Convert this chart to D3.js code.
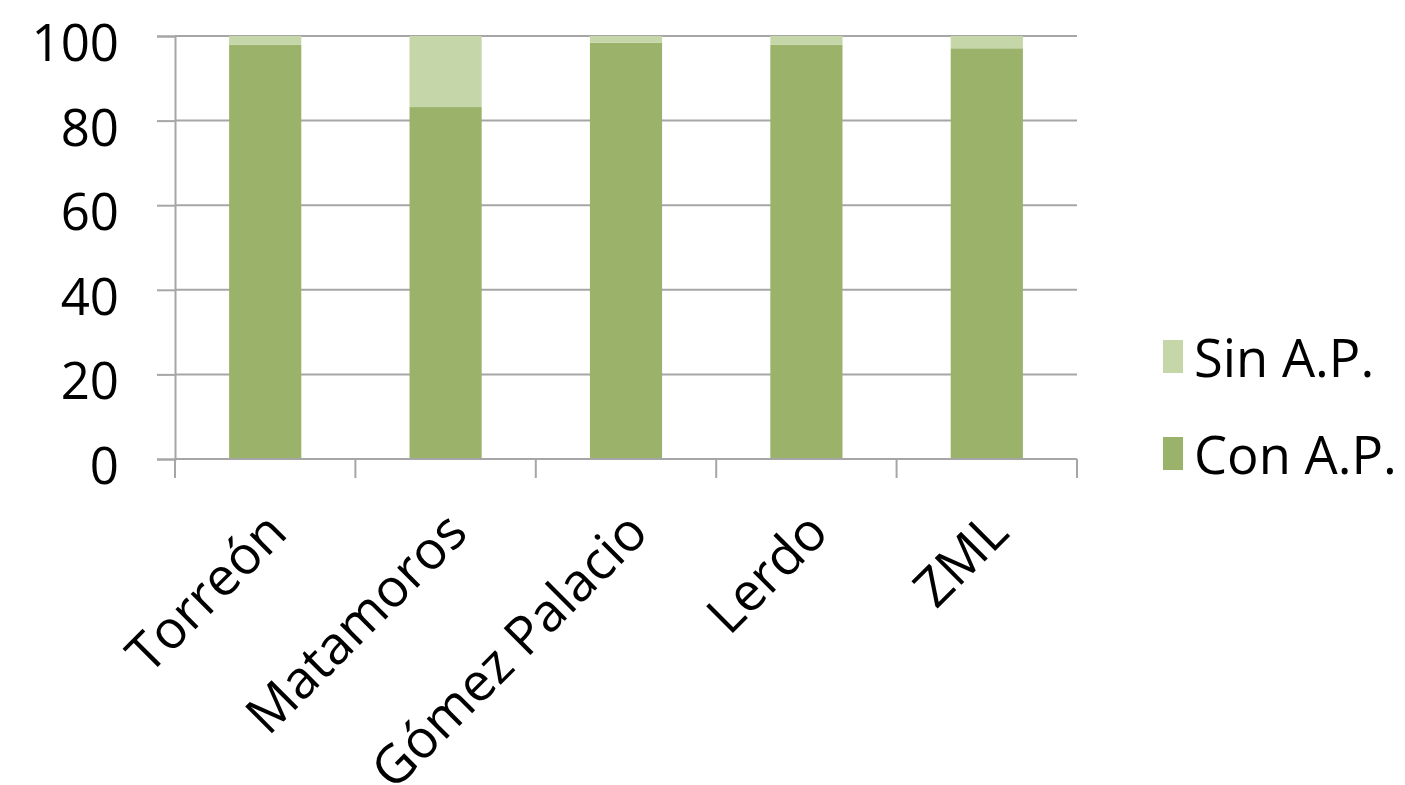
<!DOCTYPE html>
<html><head><meta charset="utf-8">
<script src="https://cdn.jsdelivr.net/npm/d3@7"></script>
<style>body{margin:0;background:#fff}svg{display:block}text{font-family:"Open Sans",sans-serif;fill:#000}</style>
</head><body>
<svg id="c" width="1405" height="785"></svg>
<script>
const categories = ["Torreón","Matamoros","Gómez Palacio","Lerdo","ZML"];
const conAP = [97.9, 83.2, 98.4, 97.9, 97.1];
const sinAP = [2.1, 16.8, 1.6, 2.1, 2.9];
const yTicks = [0,20,40,60,80,100];
const seriesNames = ["Con A.P.","Sin A.P."];
const colors = {"Con A.P.":"#9AB26A","Sin A.P.":"#C5D6A9"};

const svg = d3.select("#c");
const L=175, R=1077, T=36, B=459;
const x = d3.scaleBand().domain(categories).range([L,R]).paddingInner(0.6).paddingOuter(0.3);
const y = d3.scaleLinear().domain([0,100]).range([B,T]);
const gridColor = "#A6A6A6";

// gridlines
svg.append("g").selectAll("line").data(yTicks).join("line")
  .attr("x1",L).attr("x2",R).attr("y1",d=>y(d)).attr("y2",d=>y(d))
  .attr("stroke",gridColor).attr("stroke-width",2);

// y axis
const ya = svg.append("g").attr("transform",`translate(${L},0)`)
  .call(d3.axisLeft(y).tickValues(yTicks).tickSize(18).tickPadding(38));
ya.select(".domain").attr("stroke",gridColor).attr("stroke-width",2);
ya.selectAll(".tick line").attr("stroke",gridColor).attr("stroke-width",2);
ya.selectAll(".tick text").attr("font-size",51).attr("font-family","Open Sans").attr("fill","#000").attr("dy","0.48em");

// bars
const data = categories.map((c,i)=>({c, "Con A.P.":conAP[i], "Sin A.P.":sinAP[i]}));
const stack = d3.stack().keys(seriesNames)(data);
svg.append("g").selectAll("g").data(stack).join("g").attr("fill",d=>colors[d.key])
  .selectAll("rect").data(d=>d).join("rect")
  .attr("x",d=>x(d.data.c)).attr("width",x.bandwidth())
  .attr("y",d=>y(d[1])).attr("height",d=>y(d[0])-y(d[1]));

// x axis line and ticks at category boundaries
svg.append("line").attr("x1",L).attr("x2",R).attr("y1",B).attr("y2",B).attr("stroke",gridColor).attr("stroke-width",2);
const bounds = categories.map((c,i)=>L+i*(R-L)/categories.length);
bounds.push(R);
svg.append("g").selectAll("line").data(bounds).join("line")
  .attr("x1",d=>d).attr("x2",d=>d).attr("y1",B).attr("y2",B+19)
  .attr("stroke",gridColor).attr("stroke-width",2);

// x labels
svg.append("g").selectAll("text").data(categories).join("text")
  .attr("transform",d=>`translate(${x(d)+x.bandwidth()/2-2},${B+50}) rotate(-45)`)
  .attr("text-anchor","end").attr("dy","0.7em").attr("font-size",53).text(d=>d);

// legend
const legend = [{k:"Sin A.P.",y:358},{k:"Con A.P.",y:455}];
const lg = svg.append("g");
lg.selectAll("rect").data(legend).join("rect")
  .attr("x",1163).attr("y",d=>d.y-18).attr("width",20).attr("height",33).attr("fill",d=>colors[d.k]);
lg.selectAll("text").data(legend).join("text")
  .attr("x",1194).attr("y",d=>d.y).attr("dy","0.36em").attr("font-size",52.5).text(d=>d.k);
</script>
</body></html>
